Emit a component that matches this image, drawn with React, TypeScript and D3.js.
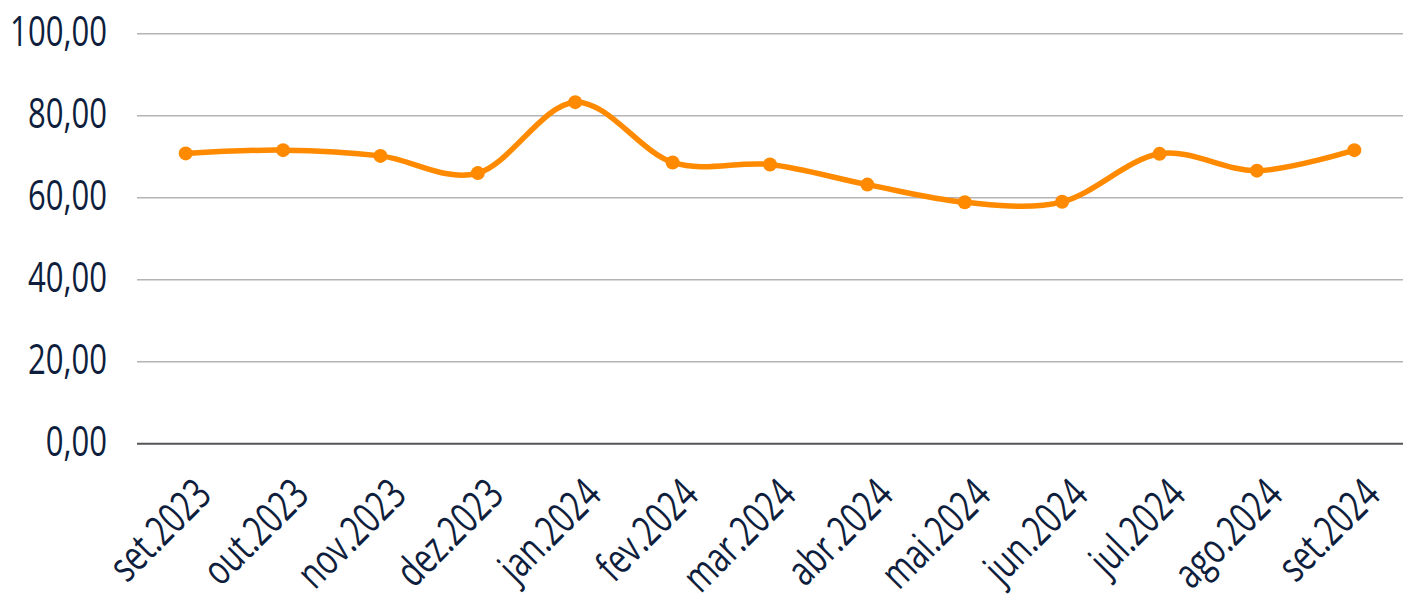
import React from "react";
import * as d3 from "d3";

const categories = [
  "set.2023", "out.2023", "nov.2023", "dez.2023", "jan.2024", "fev.2024", "mar.2024",
  "abr.2024", "mai.2024", "jun.2024", "jul.2024", "ago.2024", "set.2024",
];
const values = [70.8, 71.6, 70.2, 66.0, 83.3, 68.6, 68.1, 63.2, 58.9, 59.0, 70.7, 66.6, 71.6];
const yTicks = [0, 20, 40, 60, 80, 100];

const W = 1403;
const H = 594;
const M = { left: 137, right: 0, top: 33.7, bottom: 150 };
const FONT = "'Open Sans', 'Noto Sans', sans-serif";
const TEXT = "#0e1e3c";
const SX = 0.74;

export default function App() {
  const x = d3.scaleBand<string>().domain(categories).range([M.left, W - M.right]).padding(0);
  const y = d3.scaleLinear().domain([0, 100]).range([443.7, M.top]);
  const cx = (c: string) => (x(c) as number) + x.bandwidth() / 2;
  const line = d3
    .line<number>()
    .x((_, i) => cx(categories[i]))
    .y((d) => y(d))
    .curve(d3.curveCardinal.tension(0));
  const fmt = (v: number) => v.toFixed(2).replace(".", ",");

  return (
    <svg width={W} height={H} style={{ position: "absolute", left: 0, top: 0, background: "#fff" }}>
      {yTicks.map((t) => (
        <g key={t}>
          <line
            x1={M.left}
            x2={W - M.right}
            y1={y(t)}
            y2={y(t)}
            stroke={t === 0 ? "#555559" : "#b4b4b6"}
            strokeWidth={t === 0 ? 2 : 1.4}
          />
          <text
            transform={`translate(107,${y(t) + 12.5}) scale(${SX},1)`}
            textAnchor="end"
            fontFamily={FONT}
            fontSize={42}
            fill={TEXT}
          >
            {fmt(t)}
          </text>
        </g>
      ))}
      <path d={line(values) || ""} fill="none" stroke="#ff8a00" strokeWidth={5.5} />
      {values.map((v, i) => (
        <circle key={i} cx={cx(categories[i])} cy={y(v)} r={7} fill="#ff8a00" />
      ))}
      {categories.map((c) => (
        <text
          key={c}
          transform={`translate(${cx(c) + 28},${497}) rotate(-45) scale(${SX},1)`}
          textAnchor="end"
          fontFamily={FONT}
          fontSize={42}
          fill={TEXT}
        >
          {c}
        </text>
      ))}
    </svg>
  );
}
